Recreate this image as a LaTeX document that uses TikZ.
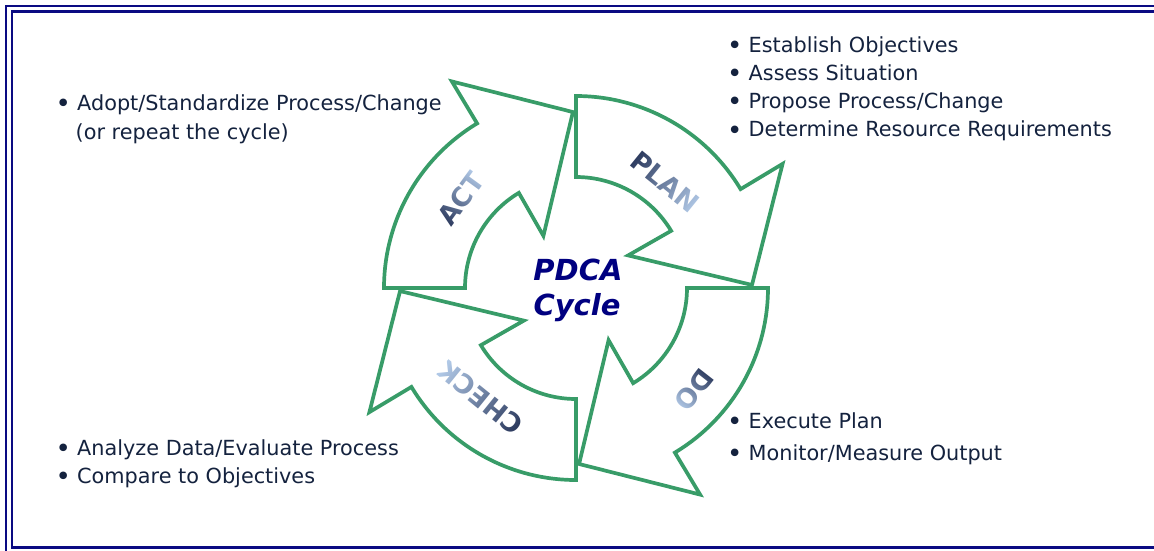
\documentclass[tikz,border=0pt]{standalone}
\usepackage{fontspec}
\setmainfont{DejaVu Sans}
\usetikzlibrary{fadings}

\definecolor{framenavy}{RGB}{10,10,130}
\definecolor{cyclegreen}{RGB}{56,156,104}
\definecolor{bodytext}{RGB}{20,34,62}
\definecolor{titlenavy}{RGB}{0,0,128}
\definecolor{lbldark}{RGB}{42,56,92}
\definecolor{lbllight}{RGB}{178,202,232}

% word masks for the shaded stage names
\tikzset{stagefont/.style={text=transparent!0, inner sep=0pt,
  font=\normalfont\bfseries\fontsize{26.5}{30}\selectfont}}
\begin{tikzfadingfrompicture}[name=fadeplan]
  \node[stagefont] {PLAN};
\end{tikzfadingfrompicture}
\begin{tikzfadingfrompicture}[name=fadedo]
  \node[stagefont] {DO};
\end{tikzfadingfrompicture}
\begin{tikzfadingfrompicture}[name=fadecheck]
  \node[stagefont] {CHECK};
\end{tikzfadingfrompicture}
\begin{tikzfadingfrompicture}[name=fadeact]
  \node[stagefont] {ACT};
\end{tikzfadingfrompicture}

% list bullet in a fixed-width slot
\newcommand{\bul}{\makebox[21.5pt][l]{\raisebox{-2.2pt}{\fontsize{26}{26}\selectfont •}}}

\tikzset{
  framerule/.style={draw=framenavy, line width=2.4pt},
  cyclearrow/.style={draw=cyclegreen, fill=white, line width=3.7pt, line join=miter},
  bullettext/.style={anchor=base west, text=bodytext, inner sep=0pt,
    font=\fontsize{20.8}{28}\selectfont},
  cycletitle/.style={anchor=base, text=titlenavy, inner sep=0pt,
    font=\fontsize{29}{34}\selectfont\bfseries\itshape},
  stageshade/.style={left color=lbldark, right color=lbllight, fit fading=false},
}

\begin{document}
\begin{tikzpicture}[x=1pt,y=1pt]
\useasboundingbox (0,0) rectangle (1154,-550);
\clip (0,0) rectangle (1154,-550);

% double frame
\draw[framerule] (6.2,-6.2) rectangle (1175,-560);
\draw[framerule] (12.2,-11.6) rectangle (1170,-547.3);

% four curved arrows around the centre
\coordinate (ctr) at (576,-288);
\begin{scope}[shift={(ctr)}]
  \foreach \t in {90,0,-90,-180}{
    \draw[cyclearrow] (\t:192) arc[start angle=\t, end angle=\t-59, radius=192]
      -- (\t-59:241) -- (\t-89:176) -- (\t-58:61.5) -- (\t-59:111)
      arc[start angle=\t-59, end angle=\t, radius=111] -- cycle;
  }
\end{scope}

% shaded stage names
\begin{scope}[transform canvas={shift={(665,-182)}, rotate=-39}]
  \shade[stageshade, path fading=fadeplan] (-40,-18) rectangle (40,18);
\end{scope}
\begin{scope}[transform canvas={shift={(694,-390)}, rotate=-128}]
  \shade[stageshade, path fading=fadedo] (-23,-18) rectangle (23,18);
\end{scope}
\begin{scope}[transform canvas={shift={(480.5,-397.5)}, rotate=141}]
  \shade[stageshade, path fading=fadecheck] (-49,-18) rectangle (49,18);
\end{scope}
\begin{scope}[transform canvas={shift={(461,-198.5)}, rotate=54}]
  \shade[stageshade, path fading=fadeact] (-30,-18) rectangle (30,18);
\end{scope}

% centre title
\node[cycletitle] (pdca) at (578,-280) {PDCA};
\node[cycletitle] (cycle) at (577,-315) {Cycle};

% plan notes
\node[bullettext] (p1) at (727,-52) {\bul Establish Objectives};
\node[bullettext] (p2) at (727,-80.3) {\bul Assess Situation};
\node[bullettext] (p3) at (727,-108.6) {\bul Propose Process/Change};
\node[bullettext] (p4) at (727,-136.9) {\bul Determine Resource Requirements};

% act notes
\node[bullettext] (a1) at (55.5,-110) {\bul Adopt/Standardize Process/Change};
\node[bullettext] (a2) at (75.5,-139) {(or repeat the cycle)};

% check notes
\node[bullettext] (c1) at (55.5,-455) {\bul Analyze Data/Evaluate Process};
\node[bullettext] (c2) at (55.5,-483) {\bul Compare to Objectives};

% do notes
\node[bullettext] (d1) at (727,-428.5) {\bul Execute Plan};
\node[bullettext] (d2) at (727,-460) {\bul Monitor/Measure Output};
\end{tikzpicture}
\end{document}
